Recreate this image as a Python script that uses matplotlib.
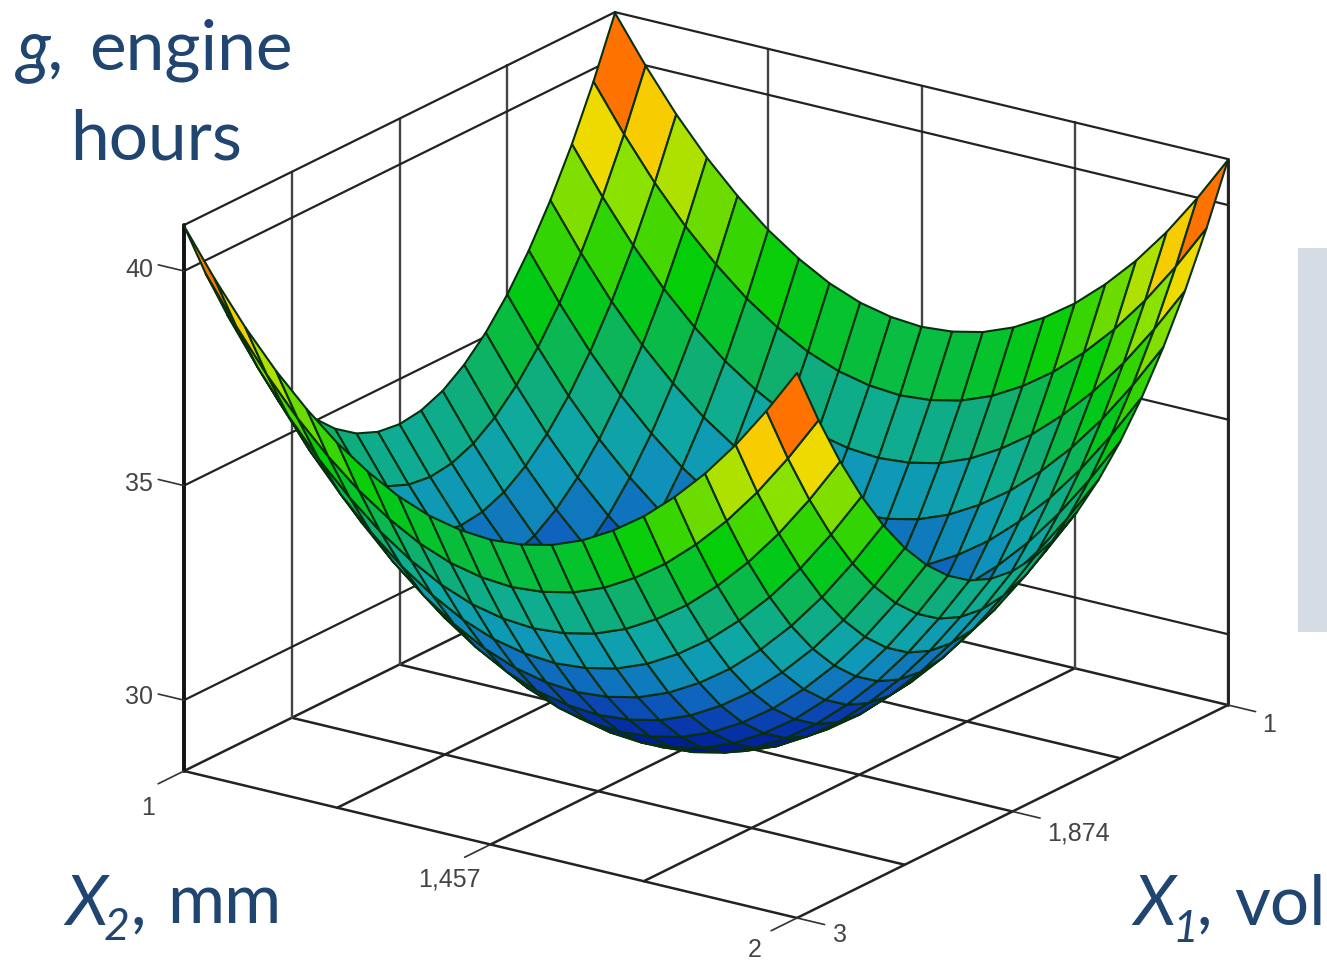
import numpy as np
import matplotlib
matplotlib.use('Agg')
import matplotlib.pyplot as plt
from matplotlib.colors import LinearSegmentedColormap
from matplotlib.patches import Rectangle
from mpl_toolkits.mplot3d import proj3d

W, H = 1327, 965

# X2, mm along the left-front edge, X1, vol along the front-right edge
x2_grid = [1.00, 1.05, 1.10, 1.15, 1.20, 1.25, 1.30, 1.35, 1.40, 1.45, 1.50,
           1.55, 1.60, 1.65, 1.70, 1.75, 1.80, 1.85, 1.90, 1.95, 2.00]
x1_grid = [3.0, 2.9, 2.8, 2.7, 2.6, 2.5, 2.4, 2.3, 2.2, 2.1, 2.0,
           1.9, 1.8, 1.7, 1.6, 1.5, 1.4, 1.3, 1.2, 1.1, 1.0]

# g, engine hours (rows follow x1_grid, columns x2_grid)
g_hours = [
    [41.05, 39.99, 39.03, 38.19, 37.47, 36.85, 36.35, 35.95, 35.67, 35.51, 35.45, 35.51, 35.67, 35.95, 36.35, 36.85, 37.47, 38.19, 39.03, 39.99, 41.05],
    [39.70, 38.64, 37.68, 36.84, 36.12, 35.50, 35.00, 34.60, 34.32, 34.16, 34.10, 34.16, 34.32, 34.60, 35.00, 35.50, 36.12, 36.84, 37.68, 38.64, 39.70],
    [38.49, 37.43, 36.47, 35.63, 34.91, 34.29, 33.79, 33.39, 33.11, 32.95, 32.89, 32.95, 33.11, 33.39, 33.79, 34.29, 34.91, 35.63, 36.47, 37.43, 38.49],
    [37.43, 36.37, 35.41, 34.57, 33.85, 33.23, 32.73, 32.33, 32.05, 31.89, 31.83, 31.89, 32.05, 32.33, 32.73, 33.23, 33.85, 34.57, 35.41, 36.37, 37.43],
    [36.51, 35.45, 34.49, 33.65, 32.93, 32.31, 31.81, 31.41, 31.13, 30.97, 30.91, 30.97, 31.13, 31.41, 31.81, 32.31, 32.93, 33.65, 34.49, 35.45, 36.51],
    [35.73, 34.67, 33.71, 32.87, 32.15, 31.53, 31.03, 30.63, 30.35, 30.19, 30.13, 30.19, 30.35, 30.63, 31.03, 31.53, 32.15, 32.87, 33.71, 34.67, 35.73],
    [35.09, 34.03, 33.07, 32.23, 31.51, 30.89, 30.39, 29.99, 29.71, 29.55, 29.49, 29.55, 29.71, 29.99, 30.39, 30.89, 31.51, 32.23, 33.07, 34.03, 35.09],
    [34.59, 33.53, 32.57, 31.73, 31.01, 30.39, 29.89, 29.49, 29.21, 29.05, 28.99, 29.05, 29.21, 29.49, 29.89, 30.39, 31.01, 31.73, 32.57, 33.53, 34.59],
    [34.23, 33.17, 32.21, 31.37, 30.65, 30.03, 29.53, 29.13, 28.85, 28.69, 28.63, 28.69, 28.85, 29.13, 29.53, 30.03, 30.65, 31.37, 32.21, 33.17, 34.23],
    [34.02, 32.96, 32.00, 31.16, 30.44, 29.82, 29.32, 28.92, 28.64, 28.48, 28.42, 28.48, 28.64, 28.92, 29.32, 29.82, 30.44, 31.16, 32.00, 32.96, 34.02],
    [33.95, 32.89, 31.93, 31.09, 30.37, 29.75, 29.25, 28.85, 28.57, 28.41, 28.35, 28.41, 28.57, 28.85, 29.25, 29.75, 30.37, 31.09, 31.93, 32.89, 33.95],
    [34.02, 32.96, 32.00, 31.16, 30.44, 29.82, 29.32, 28.92, 28.64, 28.48, 28.42, 28.48, 28.64, 28.92, 29.32, 29.82, 30.44, 31.16, 32.00, 32.96, 34.02],
    [34.23, 33.17, 32.21, 31.37, 30.65, 30.03, 29.53, 29.13, 28.85, 28.69, 28.63, 28.69, 28.85, 29.13, 29.53, 30.03, 30.65, 31.37, 32.21, 33.17, 34.23],
    [34.59, 33.53, 32.57, 31.73, 31.01, 30.39, 29.89, 29.49, 29.21, 29.05, 28.99, 29.05, 29.21, 29.49, 29.89, 30.39, 31.01, 31.73, 32.57, 33.53, 34.59],
    [35.09, 34.03, 33.07, 32.23, 31.51, 30.89, 30.39, 29.99, 29.71, 29.55, 29.49, 29.55, 29.71, 29.99, 30.39, 30.89, 31.51, 32.23, 33.07, 34.03, 35.09],
    [35.73, 34.67, 33.71, 32.87, 32.15, 31.53, 31.03, 30.63, 30.35, 30.19, 30.13, 30.19, 30.35, 30.63, 31.03, 31.53, 32.15, 32.87, 33.71, 34.67, 35.73],
    [36.51, 35.45, 34.49, 33.65, 32.93, 32.31, 31.81, 31.41, 31.13, 30.97, 30.91, 30.97, 31.13, 31.41, 31.81, 32.31, 32.93, 33.65, 34.49, 35.45, 36.51],
    [37.43, 36.37, 35.41, 34.57, 33.85, 33.23, 32.73, 32.33, 32.05, 31.89, 31.83, 31.89, 32.05, 32.33, 32.73, 33.23, 33.85, 34.57, 35.41, 36.37, 37.43],
    [38.49, 37.43, 36.47, 35.63, 34.91, 34.29, 33.79, 33.39, 33.11, 32.95, 32.89, 32.95, 33.11, 33.39, 33.79, 34.29, 34.91, 35.63, 36.47, 37.43, 38.49],
    [39.70, 38.64, 37.68, 36.84, 36.12, 35.50, 35.00, 34.60, 34.32, 34.16, 34.10, 34.16, 34.32, 34.60, 35.00, 35.50, 36.12, 36.84, 37.68, 38.64, 39.70],
    [41.05, 39.99, 39.03, 38.19, 37.47, 36.85, 36.35, 35.95, 35.67, 35.51, 35.45, 35.51, 35.67, 35.95, 36.35, 36.85, 37.47, 38.19, 39.03, 39.99, 41.05],
]

# axis box
x2_lim = (1, 2)
x1_lim = (3, 1)
g_lim = (28.35, 41.07)
x2_ticks = [1, 1.25, 1.5, 1.75, 2]
x1_ticks = [3, 2.5, 2, 1.5, 1]
g_ticks = [30, 35, 40]

# colours by g value
cmap_g = [28.35, 29.3, 30.3, 31.2, 32.3, 33.2, 34.2, 35.2, 35.8, 36.7, 37.6, 38.3, 38.7, 39.2, 39.9]
cmap_hex = ['#000082', '#001E96', '#0A3CAF', '#0F64BE', '#0F96B9', '#0FAAA0', '#0FAF6E', '#05C328',
            '#00CD0A', '#46D700', '#8CE100', '#D2E100', '#FAD700', '#F0B400', '#FF6E00']

X2, X1 = np.meshgrid(x2_grid, x1_grid)
G = np.array(g_hours)

fig = plt.figure(figsize=(W/100, H/100), dpi=100)
ax = fig.add_axes([0.2, 0.2, 600/W, 600/H], projection='3d', proj_type='ortho')
ax.computed_zorder = False
ax.set_axis_off()
ax.set_xlim(*x2_lim)
ax.set_ylim(*x1_lim)
ax.set_zlim(*g_lim)
ax.set_box_aspect((747, 754, 581.4))
ax.view_init(elev=20.13, azim=-55.14)


def seg(xs, ys, zs, lw=1.5, color='#222222'):
    ax.plot(xs, ys, zs, lw=lw, color=color, zorder=1, solid_capstyle='round')


gb, gt = g_lim
x_a, x_b = x2_lim
y_a, y_b = x1_lim

# floor grid
for x in x2_ticks:
    seg([x, x], [y_a, y_b], [gb, gb], lw=1.8)
for y in x1_ticks:
    seg([x_a, x_b], [y, y], [gb, gb], lw=1.8)
# back walls
for y in x1_ticks[1:]:
    seg([x_a, x_a], [y, y], [gb, gt], lw=1.7, color='#444444')
for x in x2_ticks[1:]:
    seg([x, x], [y_b, y_b], [gb, gt], lw=1.7, color='#444444')
for g in g_ticks + [gt]:
    seg([x_a, x_a], [y_a, y_b], [g, g], lw=1.6)
    seg([x_a, x_b], [y_b, y_b], [g, g], lw=1.6)
# the heavy corners and the tick marks
seg([x_a, x_a], [y_a, y_a], [gb, gt], lw=2.8, color='#111111')
seg([x_b, x_b], [y_b, y_b], [gb, gt], lw=2.1, color='#222222')
for g in g_ticks:
    seg([x_a, x_a - 0.042], [y_a, y_a], [g, g], lw=1.2, color='#333333')
for x in [x_a, 1.5, x_b]:
    seg([x, x], [y_a, y_a + 0.12], [gb, gb], lw=1.2, color='#333333')
for y in [y_b, 2, y_a]:
    seg([x_b, x_b + 0.045], [y, y], [gb, gb], lw=1.2, color='#333333')

# surface
cmap = LinearSegmentedColormap.from_list(
    'hours', [((g - cmap_g[0]) / (cmap_g[-1] - cmap_g[0]), c) for g, c in zip(cmap_g, cmap_hex)])
cell_g = (G[:-1, :-1] + G[1:, :-1] + G[:-1, 1:] + G[1:, 1:]) / 4
cols = cmap((cell_g - cmap_g[0]) / (cmap_g[-1] - cmap_g[0]))
ax.plot_surface(X2, X1, G, facecolors=cols, rstride=1, cstride=1, shade=False,
                edgecolor='#08300F', linewidth=1.5, antialiased=True, zorder=2)


# fit the box onto the reference corners
def to_px(x, y, z):
    xs, ys, _ = proj3d.proj_transform(x, y, z, ax.get_proj())
    return ax.transData.transform((xs, ys))


fig.canvas.draw()
scale = 1044 / (to_px(x_b, y_b, gb)[0] - to_px(x_a, y_a, gb)[0])
side = 600 * scale
ax.set_position([0.1, 0.1, side/W, side/H])
fig.canvas.draw()
p = to_px(x_a, y_a, gb)
ax.set_position([0.1 + (184 - p[0])/W, 0.1 + (H - 771 - p[1])/H, side/W, side/H])

fig.patches.append(Rectangle((1298/W, 1 - 632/H), 29/W, 384/H, transform=fig.transFigure,
                             facecolor='#D5DCE6', edgecolor='none', figure=fig))


def label(x, y, s, size=50, style='normal'):
    fig.text(x/W, 1 - y/H, s, family='Lato', fontsize=size, style=style, color='#1F4570',
             ha='left', va='baseline')


label(17, 69, 'g,', style='italic')
label(89, 69, 'engine')
label(70, 159, 'hours')
label(65, 925, 'X', style='italic')
label(104, 940, '2', size=32, style='italic')
label(132, 925, ',', style='italic')
label(167, 923, 'mm')
label(1133, 925, 'X', style='italic')
label(1172, 942, '1', size=32, style='italic')
label(1199, 925, ',', style='italic')
label(1234, 925, 'vol')

tick_texts = [(139, 270, '40'), (139, 484, '35'), (139, 697, '30'), (148, 808, '1'),
              (449, 879, '1,457'), (755, 950, '2'), (840, 935, '3'),
              (1078, 833, '1,874'), (1269, 725, '1')]
for tx, ty, s in tick_texts:
    fig.text(tx/W, 1 - ty/H, s, family='Liberation Sans', fontsize=18, color='#444444',
             ha='center', va='center')

fig.savefig('out.png', dpi=100)
